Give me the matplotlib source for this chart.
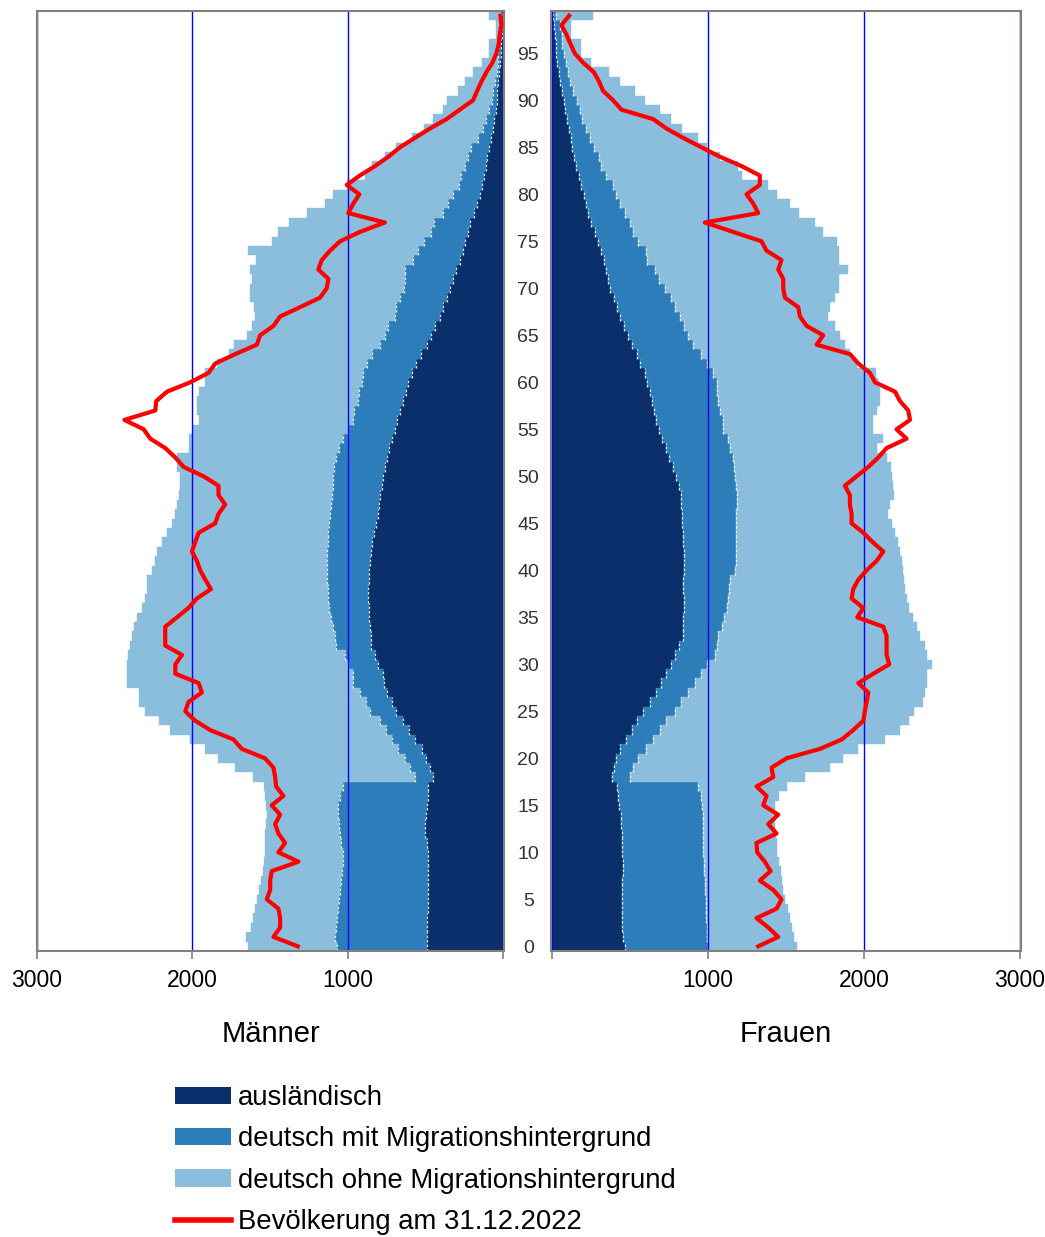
import matplotlib
matplotlib.use("Agg")
import matplotlib.pyplot as plt
import numpy as np
from matplotlib.patches import Patch
from matplotlib.lines import Line2D

plt.rcParams['font.family'] = ['Liberation Sans', 'DejaVu Sans']

ages = np.arange(100)
age_ticks = list(range(0, 100, 5))

# Männer
m_ausl = [491, 491, 491, 491, 484, 482, 480, 480, 480, 480,
          480, 491, 500, 502, 495, 491, 484, 480, 452, 469,
          495, 523, 566, 602, 641, 688, 716, 748, 765, 774,
          802, 823, 851, 851, 855, 860, 864, 866, 866, 864,
          860, 855, 851, 840, 830, 817, 806, 797, 791, 780,
          770, 759, 748, 733, 716, 692, 680, 662, 645, 626,
          609, 583, 559, 529, 491, 459, 437, 405, 383, 360,
          338, 318, 300, 274, 257, 242, 221, 210, 188, 167,
          146, 135, 120, 107, 99, 86, 77, 64, 56, 45,
          39, 34, 28, 21, 15, 12, 10, 8, 6, 5]
m_mit = [579, 589, 583, 579, 579, 571, 568, 564, 557, 547,
         551, 553, 548, 551, 564, 568, 564, 551, 114, 129,
         135, 150, 150, 150, 150, 167, 165, 172, 198, 189,
         193, 193, 223, 229, 241, 246, 253, 257, 261, 270,
         274, 279, 283, 287, 293, 300, 307, 309, 311, 316,
         321, 326, 326, 320, 311, 303, 287, 296, 285, 298,
         300, 315, 318, 316, 300, 300, 300, 292, 307, 305,
         295, 309, 327, 305, 290, 268, 240, 230, 198, 187,
         176, 144, 148, 139, 126, 118, 84, 65, 49, 43,
         31, 28, 20, 19, 18, 16, 14, 12, 10, 7]
m_ohne = [574, 573, 549, 540, 532, 531, 519, 514, 508, 510,
          500, 487, 483, 471, 461, 465, 483, 510, 1040, 1125,
          1201, 1243, 1297, 1389, 1425, 1447, 1464, 1425, 1457, 1457,
          1425, 1398, 1325, 1308, 1281, 1249, 1206, 1179, 1164, 1157,
          1125, 1104, 1093, 1068, 1040, 1014, 996, 992, 986, 981,
          990, 1013, 1024, 971, 997, 1001, 992, 1012, 1040, 1035,
          1007, 1018, 964, 921, 943, 889, 879, 898, 915, 966,
          994, 989, 1000, 1009, 1097, 978, 984, 934, 876, 791,
          769, 726, 619, 599, 534, 484, 426, 377, 343, 300,
          292, 225, 196, 151, 98, 62, 66, 25, 29, 76]
m_2022 = [1320, 1477, 1434, 1434, 1445, 1520, 1498, 1498, 1488, 1316,
          1445, 1402, 1445, 1466, 1434, 1488, 1413, 1460, 1466, 1477,
          1531, 1681, 1734, 1884, 1981, 2045, 2024, 1938, 1959, 2109,
          2109, 2066, 2174, 2174, 2174, 2098, 2024, 1970, 1880, 1916,
          1949, 1970, 2002, 1981, 1959, 1852, 1831, 1788, 1831, 1831,
          1927, 2056, 2109, 2174, 2270, 2313, 2437, 2238, 2232, 2163,
          2013, 1895, 1852, 1723, 1584, 1563, 1477, 1434, 1305, 1177,
          1134, 1123, 1188, 1166, 1113, 1048, 920, 759, 995, 963,
          924, 1005, 920, 823, 737, 662, 566, 469, 362, 277,
          191, 165, 137, 105, 67, 41, 26, 19, 9, 15]

# Frauen
f_ausl = [468, 457, 453, 453, 453, 453, 453, 453, 457, 457,
          453, 447, 447, 442, 442, 432, 425, 415, 389, 397,
          410, 436, 474, 511, 547, 585, 628, 667, 703, 735,
          761, 788, 816, 838, 838, 842, 846, 846, 842, 842,
          846, 846, 846, 842, 842, 836, 833, 831, 825, 816,
          799, 778, 752, 731, 709, 688, 667, 656, 645, 632,
          611, 596, 568, 543, 517, 489, 462, 436, 419, 400,
          376, 361, 346, 333, 318, 297, 276, 250, 233, 218,
          205, 190, 173, 158, 143, 132, 122, 109, 98, 88,
          77, 66, 56, 45, 36, 30, 26, 19, 13, 9]
f_mit = [534, 535, 539, 534, 534, 532, 530, 528, 520, 517,
         517, 523, 523, 524, 524, 532, 534, 523, 111, 124,
         143, 171, 176, 181, 188, 203, 203, 207, 214, 224,
         235, 257, 240, 228, 250, 261, 274, 284, 295, 303,
         327, 334, 334, 338, 338, 344, 347, 353, 363, 364,
         374, 389, 406, 410, 421, 410, 427, 421, 421, 424,
         445, 438, 424, 416, 389, 385, 384, 385, 369, 367,
         348, 327, 314, 277, 285, 256, 245, 250, 235, 218,
         205, 203, 173, 160, 160, 137, 122, 113, 99, 91,
         85, 71, 64, 60, 58, 47, 42, 45, 40, 17]
f_ohne = [566, 559, 544, 539, 528, 509, 500, 491, 489, 483,
          474, 470, 466, 463, 463, 465, 498, 566, 1122, 1261,
          1315, 1357, 1485, 1539, 1556, 1533, 1549, 1517, 1485, 1447,
          1438, 1357, 1335, 1293, 1250, 1209, 1171, 1143, 1126, 1111,
          1075, 1062, 1051, 1040, 1019, 997, 976, 983, 1004, 1004,
          1004, 1004, 987, 940, 990, 958, 962, 1004, 1037, 1047,
          1036, 1043, 961, 951, 972, 972, 968, 950, 994, 1047,
          1118, 1154, 1240, 1232, 1239, 1272, 1218, 1186, 1117, 1090,
          1034, 994, 876, 876, 774, 727, 694, 613, 570, 513,
          434, 395, 316, 263, 160, 109, 118, 62, 73, 239]
f_2022 = [1323, 1451, 1387, 1312, 1440, 1472, 1419, 1333, 1402, 1365,
          1316, 1312, 1440, 1387, 1451, 1355, 1376, 1312, 1419, 1408,
          1504, 1718, 1857, 1931, 1996, 2006, 2017, 2028, 1964, 2060,
          2162, 2145, 2145, 2145, 2124, 1957, 1996, 1921, 1931, 1964,
          2017, 2081, 2124, 2056, 1996, 1921, 1921, 1910, 1910, 1878,
          1953, 2028, 2092, 2145, 2273, 2209, 2295, 2284, 2231, 2199,
          2071, 2038, 1964, 1910, 1697, 1739, 1633, 1590, 1579, 1494,
          1483, 1483, 1451, 1472, 1376, 1344, 1162, 981, 1323, 1291,
          1248, 1333, 1333, 1216, 1077, 959, 842, 735, 650, 447,
          393, 329, 303, 269, 201, 147, 120, 94, 62, 111]

labels = ['ausländisch', 'deutsch mit Migrationshintergrund',
          'deutsch ohne Migrationshintergrund', 'Bevölkerung am 31.12.2022']
colors = ['#0b2f6a', '#2e7dbb', '#8bbedc']
red = '#ff0000'
grid_blue = '#0000ff'
spine_grey = '#7f7f7f'

W, H = 1045, 1237
fig = plt.figure(figsize=(W / 100, H / 100), dpi=100)
ax_m = fig.add_axes([37 / W, 1 - 951 / H, 467 / W, 940 / H])
ax_f = fig.add_axes([550.5 / W, 1 - 951 / H, 470 / W, 940 / H])


def draw_side(ax, ausl, mit, ohne, total):
    ausl = np.array(ausl)
    mit = np.array(mit)
    ohne = np.array(ohne)
    ax.barh(ages, ausl, height=1.0, color=colors[0], linewidth=0.3, edgecolor=colors[0], zorder=1)
    ax.barh(ages, mit, left=ausl, height=1.0, color=colors[1], linewidth=0.3, edgecolor=colors[1], zorder=1)
    ax.barh(ages, ohne, left=ausl + mit, height=1.0, color=colors[2], linewidth=0.3, edgecolor=colors[2], zorder=1)
    # feine weisse Trennlinien zwischen den Segmenten
    for edge in (ausl, ausl + mit):
        ax.vlines(edge, ages - 0.5, ages + 0.5, colors='white', linewidth=0.9,
                  linestyles=(0, (2, 1.5)), alpha=0.85, zorder=1.5)
    for x in (0, 1000, 2000, 3000):
        ax.axvline(x, color=grid_blue, linewidth=1, zorder=2)
    ax.plot(total, ages, color=red, linewidth=3, solid_joinstyle='round', zorder=3)
    ax.set_ylim(-0.5, 99.5)
    ax.set_xticks([0, 1000, 2000, 3000])
    ax.set_xticklabels(['', '1000', '2000', '3000'])
    ax.tick_params(axis='x', length=6, width=1.2, color=spine_grey, labelsize=16.5, pad=7)
    for s in ax.spines.values():
        s.set_color(spine_grey)
        s.set_linewidth(1.5)


draw_side(ax_m, m_ausl, m_mit, m_ohne, m_2022)
draw_side(ax_f, f_ausl, f_mit, f_ohne, f_2022)

ax_m.set_xlim(3000, -8)
ax_f.set_xlim(-8, 3003)

ax_m.set_yticks([])
ax_f.set_yticks(age_ticks)
ax_f.set_yticklabels([str(a) for a in age_ticks])
ax_f.tick_params(axis='y', length=0, pad=16, labelsize=14, labelcolor='#333333')
for t in ax_f.get_yticklabels():
    t.set_horizontalalignment('center')

ax_m.set_xlabel('Männer', fontsize=21, labelpad=20)
ax_f.set_xlabel('Frauen', fontsize=21, labelpad=20)

handles = [Patch(facecolor=colors[0]), Patch(facecolor=colors[1]),
           Patch(facecolor=colors[2]), Line2D([0], [0], color=red, linewidth=4)]
fig.legend(handles, labels, loc='upper left', bbox_to_anchor=(175 / W, 1 - 1085 / H),
           frameon=False, fontsize=19.8, handlelength=2.05, handleheight=0.6,
           handletextpad=0.25, labelspacing=0.56, borderpad=0, borderaxespad=0)

fig.savefig('out.png', dpi=100)
